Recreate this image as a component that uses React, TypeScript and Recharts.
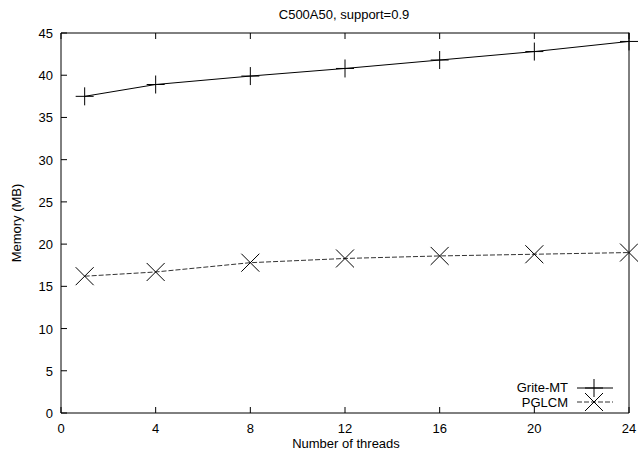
import React from 'react';
import { LineChart, Line, XAxis, YAxis } from 'recharts';

// threads on the x axis, memory in MB on the y axis
const threads = [1, 4, 8, 12, 16, 20, 24];
const griteMT = [37.5, 38.9, 39.9, 40.8, 41.8, 42.8, 44.0];
const pglcm = [16.2, 16.7, 17.8, 18.3, 18.6, 18.8, 19.0];
const xTicks = [0, 4, 8, 12, 16, 20, 24];
const yTicks = [0, 5, 10, 15, 20, 25, 30, 35, 40, 45];

const data = threads.map((t, i) => ({ threads: t, grite: griteMT[i], pglcm: pglcm[i] }));

const FONT = '"Liberation Sans", Arial, Helvetica, sans-serif';
const FONT_SIZE = 13;
const TICK_LEN = 6;
const DASH_COLOR = '#333';

const plusPath = (cx: number, cy: number, r: number) =>
  `M${cx - r},${cy}h${2 * r}M${cx},${cy - r}v${2 * r}`;
const crossPath = (cx: number, cy: number, r: number) =>
  `M${cx - r},${cy - r}l${2 * r},${2 * r}M${cx - r},${cy + r}l${2 * r},${-2 * r}`;

const PlusDot = (props: any) => {
  const { cx, cy, index } = props;
  return <path key={`p${index}`} d={plusPath(cx, cy, 9)} stroke="#000" strokeWidth={1} fill="none" />;
};
const CrossDot = (props: any) => {
  const { cx, cy, index } = props;
  return <path key={`x${index}`} d={crossPath(cx, cy, 9)} stroke="#000" strokeWidth={1} fill="none" />;
};

// gnuplot-style inward ticks
const BottomTick = ({ x, y, payload }: any) => (
  <g>
    <line x1={x} y1={y} x2={x} y2={y - TICK_LEN} stroke="#000" />
    <text x={x} y={y + 20} textAnchor="middle" fontSize={FONT_SIZE} fontFamily={FONT} fill="#000">
      {payload.value}
    </text>
  </g>
);
const TopTick = ({ x, y }: any) => <line x1={x} y1={y} x2={x} y2={y + TICK_LEN} stroke="#000" />;
const LeftTick = ({ x, y, payload }: any) => (
  <g>
    <line x1={x} y1={y} x2={x + TICK_LEN} y2={y} stroke="#000" />
    <text x={x - 8} y={y + 5} textAnchor="end" fontSize={FONT_SIZE} fontFamily={FONT} fill="#000">
      {payload.value}
    </text>
  </g>
);
const RightTick = ({ x, y }: any) => <line x1={x} y1={y} x2={x - TICK_LEN} y2={y} stroke="#000" />;

export default function App() {
  return (
    <div style={{ position: 'absolute', left: 0, top: 0, width: 638, height: 459, background: '#fff' }}>
      <LineChart
        width={638}
        height={459}
        data={data}
        margin={{ top: 32, right: 8, left: 0, bottom: 16 }}
      >
        <XAxis
          xAxisId="b"
          dataKey="threads"
          type="number"
          domain={[0, 24]}
          ticks={xTicks}
          height={30}
          tickSize={0}
          tickMargin={0}
          tickLine={false}
          axisLine={{ stroke: '#000' }}
          tick={<BottomTick />}
          interval={0}
        />
        <XAxis
          xAxisId="t"
          orientation="top"
          dataKey="threads"
          type="number"
          domain={[0, 24]}
          ticks={xTicks}
          height={1}
          tickSize={0}
          tickMargin={0}
          tickLine={false}
          axisLine={{ stroke: '#000' }}
          tick={<TopTick />}
          interval={0}
        />
        <YAxis
          yAxisId="l"
          type="number"
          domain={[0, 45]}
          ticks={yTicks}
          width={61}
          tickSize={0}
          tickMargin={0}
          tickLine={false}
          axisLine={{ stroke: '#000' }}
          tick={<LeftTick />}
          interval={0}
        />
        <YAxis
          yAxisId="r"
          orientation="right"
          type="number"
          domain={[0, 45]}
          ticks={yTicks}
          width={1}
          tickSize={0}
          tickMargin={0}
          tickLine={false}
          axisLine={{ stroke: '#000' }}
          tick={<RightTick />}
          interval={0}
        />
        <Line
          xAxisId="b"
          yAxisId="l"
          dataKey="grite"
          name="Grite-MT"
          type="linear"
          stroke="#000"
          strokeWidth={1}
          dot={PlusDot}
          activeDot={false}
          isAnimationActive={false}
        />
        <Line
          xAxisId="b"
          yAxisId="l"
          dataKey="pglcm"
          name="PGLCM"
          type="linear"
          stroke={DASH_COLOR}
          strokeWidth={1}
          strokeDasharray="5 2"
          dot={CrossDot}
          activeDot={false}
          isAnimationActive={false}
        />
      </LineChart>
      <svg
        width={638}
        height={459}
        style={{ position: 'absolute', left: 0, top: 0, pointerEvents: 'none' }}
        fontFamily={FONT}
        fontSize={FONT_SIZE}
      >
        <text x={344} y={19} textAnchor="middle">C500A50, support=0.9</text>
        <text x={346} y={448} textAnchor="middle">Number of threads</text>
        <text x={21} y={223} textAnchor="middle" transform="rotate(-90 21 223)">Memory (MB)</text>
        <text x={568} y={392} textAnchor="end">Grite-MT</text>
        <line x1={577} y1={388} x2={613} y2={388} stroke="#000" />
        <path d={plusPath(594, 388, 9)} stroke="#000" fill="none" />
        <text x={568} y={407} textAnchor="end">PGLCM</text>
        <line x1={577} y1={402} x2={613} y2={402} stroke={DASH_COLOR} strokeDasharray="5 2" />
        <path d={crossPath(594, 402, 9)} stroke="#000" fill="none" />
      </svg>
    </div>
  );
}
